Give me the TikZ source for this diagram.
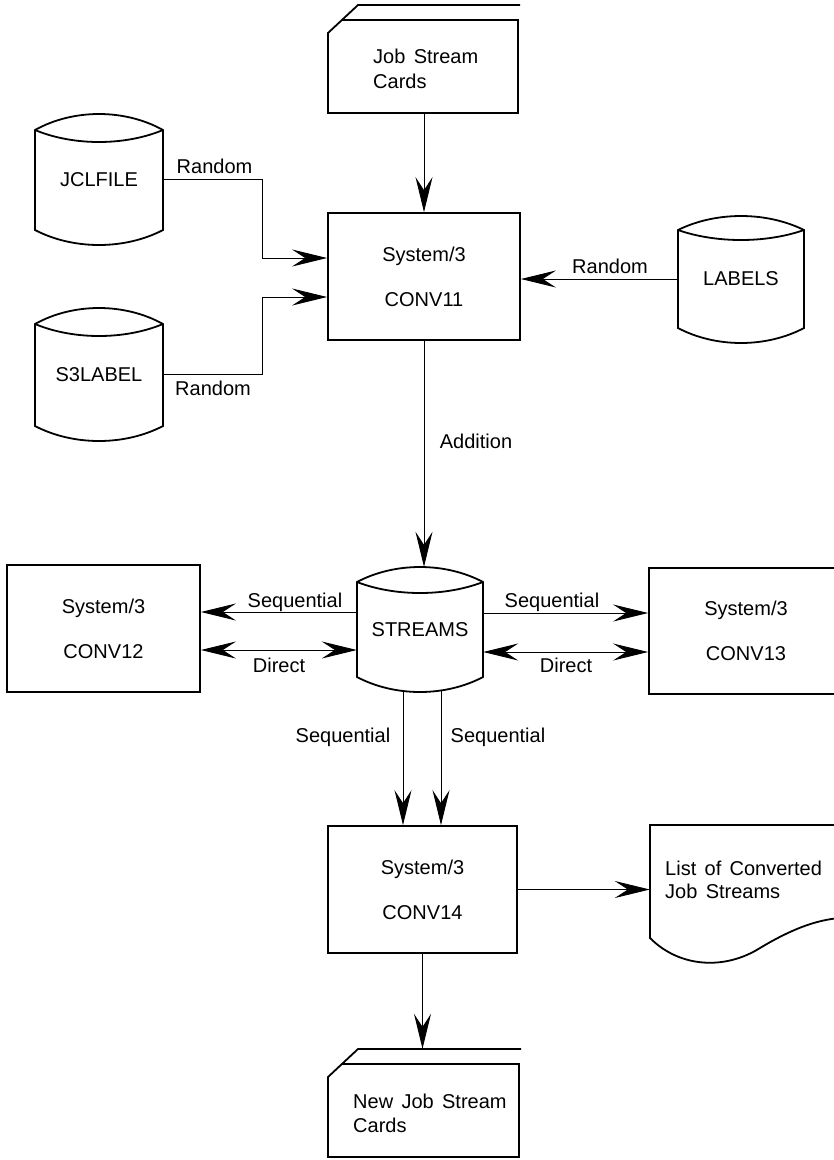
\documentclass[tikz,border=0pt]{standalone}
\usepackage{fontspec}
\setmainfont{Liberation Sans}[WordSpace=1.5]
\usetikzlibrary{arrows.meta}
\newcommand\mycyl[7]{% L R Tc up down Bc bb
  \draw[outline] (#1,#3) .. controls ({#1+0.3*(#2-#1)},{#3-4/3*#4}) and ({#2-0.3*(#2-#1)},{#3-4/3*#4}) .. (#2,#3) -- (#2,#6) .. controls ({#2-0.3*(#2-#1)},{#6+4/3*#7}) and ({#1+0.3*(#2-#1)},{#6+4/3*#7}) .. (#1,#6) -- cycle;
  \draw[outline] (#1,#3) .. controls ({#1+0.3*(#2-#1)},{#3+4/3*#5}) and ({#2-0.3*(#2-#1)},{#3+4/3*#5}) .. (#2,#3);}
\newcommand\mycard[4]{% L R T B
  \draw[outline] ({#1+13.9},{#3+15}) -- (#2,{#3+15}) -- (#2,#4) -- (#1,#4) -- (#1,{#3+28}) -- ({#1+30},#3) -- ({#2+2},#3);}
\begin{document}
\begin{tikzpicture}[x=1pt,y=-1pt,
  txt/.style={font=\fontsize{20}{24}\selectfont, inner sep=0pt},
  outline/.style={line width=1.8pt, line join=miter},
  procbox/.style={draw, line width=1.8pt, inner sep=0pt, align=center, font=\fontsize{20}{45}\selectfont},
  area/.style={inner sep=0pt, draw=none, font=\fontsize{20}{24}\selectfont},
  conn/.style={line width=0.9pt},
  bigtip/.tip={Stealth[length=35pt,width=17pt,inset=13pt]},
  arr/.style={conn,-bigtip},
  darr/.style={conn,bigtip-bigtip}]
\useasboundingbox (0,0) rectangle (834,1160);
\clip (0,0) rectangle (834,1160);

% top card
\node[area, minimum width=190pt, minimum height=108pt] (jsc) at (423,59) {};
\mycard{328}{518}{5}{113}
\node[txt, anchor=base west] (jsc1) at (373,63) {Job Stream};
\node[txt, anchor=base west] (jsc2) at (373,88) {Cards};

% CONV11
\node[procbox, minimum width=192pt, minimum height=127pt] (c11) at (424,276.5) {System/3\\CONV11};

% cylinders
\node[area, minimum width=128pt, minimum height=131pt] (jcl) at (99,179.5) {JCLFILE};
\mycyl{35}{163}{130}{16}{12}{230}{15}
\node[area, minimum width=128pt, minimum height=132pt] (s3) at (99,374.5) {S3LABEL};
\mycyl{35}{163}{324}{16}{12}{426}{15}
\node[area, minimum width=126pt, minimum height=120pt] (lab) at (741,279) {LABELS};
\mycyl{678}{804}{230}{14}{10}{328}{15}
\node[area, minimum width=126pt, minimum height=125pt] (str) at (420,629.5) {STREAMS};
\mycyl{357}{483}{582}{15}{11}{677}{15}

% other processes
\node[procbox, minimum width=193pt, minimum height=127pt] (c12) at (103.5,628.5) {System/3\\CONV12};
\node[procbox, minimum width=194pt, minimum height=126pt] (c13) at (746,631) {System/3\\CONV13};
\node[procbox, minimum width=189pt, minimum height=127pt] (c14) at (422.5,889.5) {System/3\\CONV14};

% document
\node[area, minimum width=192pt, minimum height=130pt] (doc) at (746,890) {};
\draw[outline] (840,825) -- (650,825) -- (650,938) .. controls (680,968) and (725,970) .. (760,948) .. controls (790,930) and (815,920) .. (840,918);
\node[txt, anchor=base west] (doc1) at (665,875) {List of Converted};
\node[txt, anchor=base west] (doc2) at (665,898) {Job Streams};

% bottom card
\node[area, minimum width=191pt, minimum height=108pt] (nj) at (423.5,1103) {};
\mycard{328}{519}{1049}{1157}
\node[txt, anchor=base west] (nj1) at (353,1108) {New Job Stream};
\node[txt, anchor=base west] (nj2) at (353,1132) {Cards};

% connectors
\draw[arr] (c11.north |- jsc.south) -- (c11.north);
\draw[arr] (jcl.east) -- ++(99pt,0pt) |- ([yshift=18.5pt]c11.west);
\draw[arr] (s3.east) -- ++(99pt,0pt) |- ([yshift=-20.5pt]c11.west);
\draw[arr] (lab.west) -- (lab.west -| c11.east);
\draw[arr] (c11.south) -- (c11.south |- str.north);
\draw[arr] ([yshift=17.5pt]str.west) -- ([yshift=17.5pt]str.west -| c12.east);
\draw[darr] ([yshift=-20.5pt]str.west) -- ([yshift=-20.5pt]str.west -| c12.east);
\draw[arr] ([yshift=16.5pt]str.east) -- ([yshift=16.5pt]str.east -| c13.west);
\draw[darr] ([yshift=-22.5pt]str.east) -- ([yshift=-22.5pt]str.east -| c13.west);
\draw[arr] ([xshift=-17pt,yshift=2pt]str.south) -- ([xshift=-17pt]str.south |- c14.north);
\draw[arr] ([xshift=21pt,yshift=2pt]str.south) -- ([xshift=21pt]str.south |- c14.north);
\draw[arr] (c14.east) -- (c14.east -| doc.west);
\draw[arr] (c14.south) -- (c14.south |- nj.north);

% labels
\node[txt, anchor=base] (l1) at (214.5,173) {Random};
\node[txt, anchor=base] (l2) at (213,395) {Random};
\node[txt, anchor=base] (l3) at (610,273) {Random};
\node[txt, anchor=base] (l4) at (476,448) {Addition};
\node[txt, anchor=base] (l5) at (295,607) {Sequential};
\node[txt, anchor=base] (l6) at (279,672) {Direct};
\node[txt, anchor=base] (l7) at (552,607) {Sequential};
\node[txt, anchor=base] (l8) at (566,672) {Direct};
\node[txt, anchor=base] (l9) at (343,742) {Sequential};
\node[txt, anchor=base] (l10) at (498,742) {Sequential};
\end{tikzpicture}
\end{document}
